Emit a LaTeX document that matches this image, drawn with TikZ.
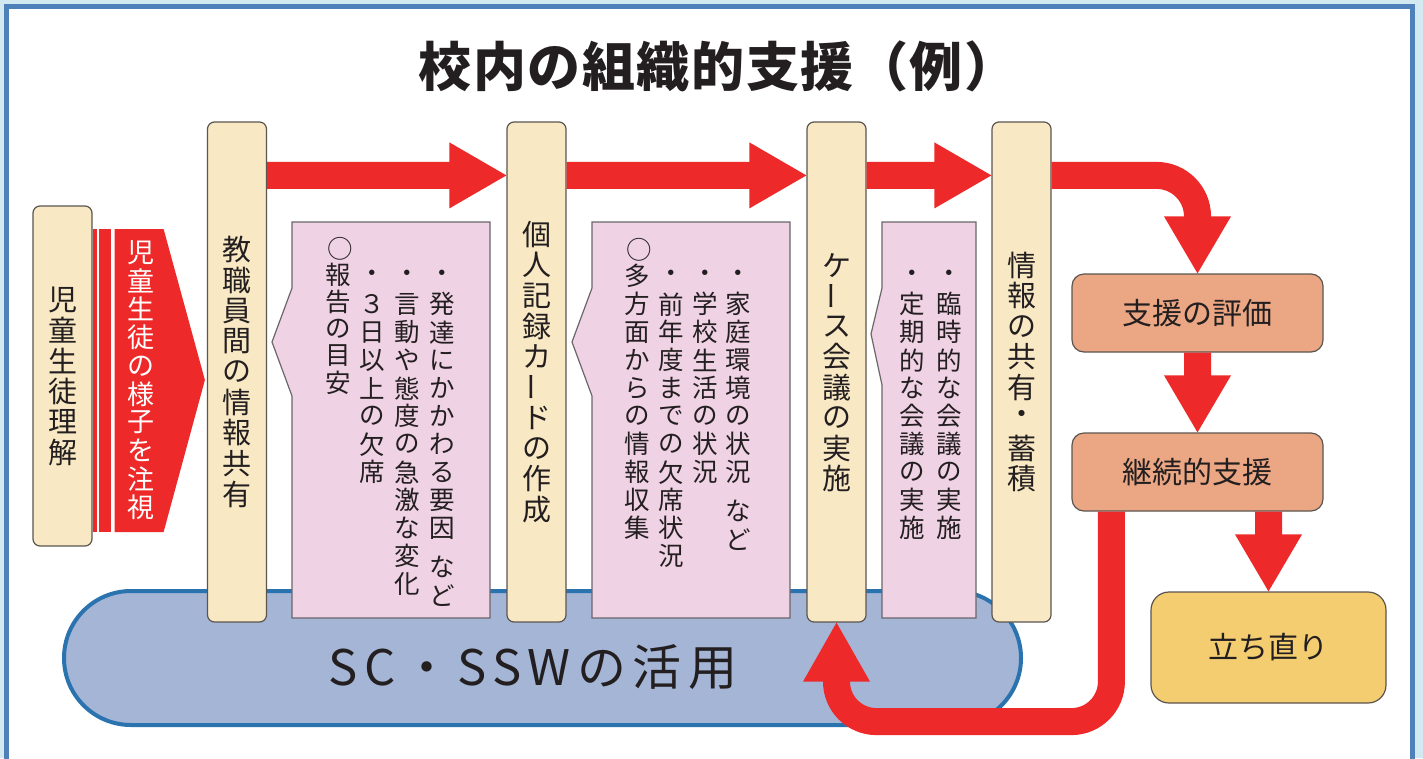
\documentclass[tikz,border=0pt]{standalone}
\usepackage{fontspec}
\setmainfont{Noto Sans CJK JP}
\usepackage{graphicx}
\usetikzlibrary{calc}

\definecolor{framebg}{HTML}{D2E9F1}
\definecolor{framebl}{HTML}{4E80B9}
\definecolor{tanfill}{HTML}{F9E8C4}
\definecolor{tanborder}{HTML}{5B5550}
\definecolor{pinkfill}{HTML}{F0D2E5}
\definecolor{pinkborder}{HTML}{6A666A}
\definecolor{arrowred}{HTML}{ED2A29}
\definecolor{salmon}{HTML}{EBA683}
\definecolor{yellowbox}{HTML}{F4CD70}
\definecolor{stadfill}{HTML}{A4B5D6}
\definecolor{stadborder}{HTML}{2A73AF}
\definecolor{txt}{HTML}{231F20}

\newcommand\vgap{}
\newcommand\vbar{\rotatebox[origin=c]{90}{ー}}
\newcommand\vcirc{\kern4pt\raisebox{-11pt}[0pt][0pt]{○}}

\ExplSyntaxOn
\dim_new:N \l_vt_pitch_dim
\NewDocumentCommand \vtext { m m }
  {
    \dim_set:Nn \l_vt_pitch_dim {#1}
    \vbox:n
      {
        \offinterlineskip
        \tl_map_inline:nn {#2}
          {
            \token_if_eq_meaning:NNTF ##1 \vgap
              { \kern 11pt }
              {
                \hbox_to_wd:nn { 1.1em }
                  {
                    \hss
                    \vbox_to_ht:nn { \l_vt_pitch_dim } { \vss \hbox:n {##1} \vss }
                    \hss
                  }
              }
          }
      }
  }
\ExplSyntaxOff

\newcommand\arrowR[2]{%
  \fill[redarrow] let \p1=#1, \p2=#2 in
    (\x1,\y1+13.5pt) -- (\x2-57pt,\y1+13.5pt) -- (\x2-57pt,\y1+33pt) -- (\x2,\y1)
    -- (\x2-57pt,\y1-33pt) -- (\x2-57pt,\y1-13.5pt) -- (\x1,\y1-13.5pt) -- cycle;}
\newcommand\arrowD[2]{%
  \fill[redarrow] let \p1=#1, \p2=#2 in
    (\x1-13.5pt,\y1) -- (\x1-13.5pt,\y2+57pt) -- (\x1-33.5pt,\y2+57pt) -- (\x1,\y2)
    -- (\x1+33.5pt,\y2+57pt) -- (\x1+13.5pt,\y2+57pt) -- (\x1+13.5pt,\y1) -- cycle;}

\begin{document}
\begin{tikzpicture}[x=1pt,y=-1pt,
  tanbox/.style={draw=tanborder, fill=tanfill, line width=1.2pt, rounded corners=7pt,
    inner sep=0pt, minimum width=59pt, text=txt, font=\fontsize{29pt}{29pt}\selectfont},
  pinkbox/.style={draw=pinkborder, fill=pinkfill, line width=1.2pt},
  pinktext/.style={anchor=north, inner sep=0pt, text=txt, font=\fontsize{25.5pt}{26pt}\selectfont},
  orbox/.style={draw=tanborder, fill=salmon, line width=1.2pt, rounded corners=12pt,
    inner sep=0pt, minimum width=251pt, minimum height=78pt, text=txt,
    font=\fontsize{30pt}{30pt}\selectfont},
  redarrow/.style={fill=arrowred},
  redline/.style={draw=arrowred, line width=27pt},
]
\useasboundingbox (0,0) rectangle (1423,758);
\fill[framebg] (0,0) rectangle (1423,758);
\draw[draw=framebl, line width=5pt, fill=white] (6.5,6.5) rectangle (1412.5,790);

% title
\node[text=txt, inner sep=0pt, font=\bfseries\fontsize{53pt}{53pt}\selectfont\addfontfeature{LetterSpace=3}] (title) at (718,66) {校内の組織的支援（例）};

% SC / SSW band
\node[draw=stadborder, fill=stadfill, line width=4pt, rounded corners=67pt,
  minimum width=957pt, minimum height=134pt, inner sep=0pt] (stad) at (542.5,658) {};
\node[text=txt, inner sep=0pt, font=\fontsize{49pt}{49pt}\selectfont\addfontfeature{LetterSpace=13}] (sctext) at (533,667) {SC・SSWの活用};

% pink boxes
\draw[pinkbox] (292,222) -- (490,222) -- (490,618) -- (292,618) -- (292,396) -- (272,342) -- (292,288) -- cycle;
\draw[pinkbox] (592,222) -- (790,222) -- (790,618) -- (592,618) -- (592,396) -- (572,342) -- (592,288) -- cycle;
\draw[pinkbox] (882,222) -- (976,222) -- (976,618) -- (882,618) -- (882,385) -- (871,334) -- (882,288) -- cycle;

\node[pinktext] (p1a) at (442,234) {\vtext{28pt}{　・発達にかかわる要因\vgap など}};
\node[pinktext] (p1b) at (407,234) {\vtext{28pt}{　・言動や態度の急激な変化}};
\node[pinktext] (p1c) at (372,234) {\vtext{28pt}{　・３日以上の欠席}};
\node[pinktext] (p1d) at (338,234) {\vtext{27pt}{\vcirc 報告の目安}};

\node[pinktext] (p2a) at (738,234) {\vtext{28pt}{　・家庭環境の状況\vgap など}};
\node[pinktext] (p2b) at (705,234) {\vtext{28pt}{　・学校生活の状況}};
\node[pinktext] (p2c) at (671,234) {\vtext{28pt}{　・前年度までの欠席状況}};
\node[pinktext] (p2d) at (637,234) {\vtext{28pt}{\vcirc 多方面からの情報収集}};

\node[pinktext] (p3a) at (949,234) {\vtext{28pt}{　・臨時的な会議の実施}};
\node[pinktext] (p3b) at (912,234) {\vtext{28pt}{　・定期的な会議の実施}};

% tan boxes
\node[tanbox, minimum height=340pt] (b0) at (62.5,376) {\vtext{30.5pt}{児童生徒理解}};
\node[tanbox, minimum height=500pt] (b2) at (237,372) {\vtext{30.5pt}{教職員間の情報共有}};
\node[tanbox, minimum height=500pt] (b3) at (536.5,372) {\vtext{30.5pt}{個人記録カ\vbar ドの作成}};
\node[tanbox, minimum height=500pt] (b4) at (836.5,372) {\vtext{30.5pt}{ケ\vbar ス会議の実施}};
\node[tanbox, minimum height=500pt] (b5) at (1021.5,372) {\vtext{30.5pt}{情報の共有・蓄積}};

% right column boxes
\node[orbox] (e1) at (1197.5,313) {支援の評価};
\node[orbox] (e2) at (1197.5,472) {継続的支援};
\node[orbox, fill=yellowbox, rounded corners=18pt, minimum width=235pt, minimum height=111pt] (e3) at (1268.5,647.5) {立ち直り};

% chevron from b0 to b2
\fill[redarrow] ($(b0.east)+(0,-147)$) rectangle ($(b0.east)+(4.5,156)$);
\fill[redarrow] ($(b0.east)+(6,-147)$) rectangle ($(b0.east)+(18,156)$);
\fill[redarrow] ($(b0.east)+(22,-147)$) -- ($(b0.east)+(71,-147)$) -- ($(b2.west)+(-2,8)$)
  -- ($(b0.east)+(71,156)$) -- ($(b0.east)+(22,156)$) -- cycle;
\node[text=white, inner sep=0pt, font=\fontsize{27pt}{27pt}\selectfont] (chev) at (141,380)
  {\vtext{28.3pt}{児童生徒の様子を注視}};

% top arrows
\arrowR{($(b2.north east)+(0,54)$)}{($(b3.north west)+(0,54)$)}
\arrowR{($(b3.north east)+(0,54)$)}{($(b4.north west)+(0,54)$)}
\arrowR{($(b4.north east)+(0,54)$)}{($(b5.north west)+(0,54)$)}

% curved arrow to evaluation
\draw[redline, rounded corners=41pt] ($(b5.north east)+(0,54)$) -| ($(e1.north)+(0,-56)$);
\fill[redarrow] (e1.north) -- ($(e1.north)+(-33.5,-57)$) -- ($(e1.north)+(33.5,-57)$) -- cycle;

% vertical arrows
\arrowD{(e1.south)}{(e2.north)}
\arrowD{(e3.north |- e2.south)}{(e3.north)}

% return arrow to case meeting
\draw[redline, rounded corners=40pt] ($(e2.south west)+(40,0)$) |- ($(b4.south)+(0,99)$) -- ($(b4.south)+(0,58)$);
\fill[redarrow] (b4.south) -- ($(b4.south)+(-33.5,59)$) -- ($(b4.south)+(33.5,59)$) -- cycle;
\end{tikzpicture}
\end{document}
